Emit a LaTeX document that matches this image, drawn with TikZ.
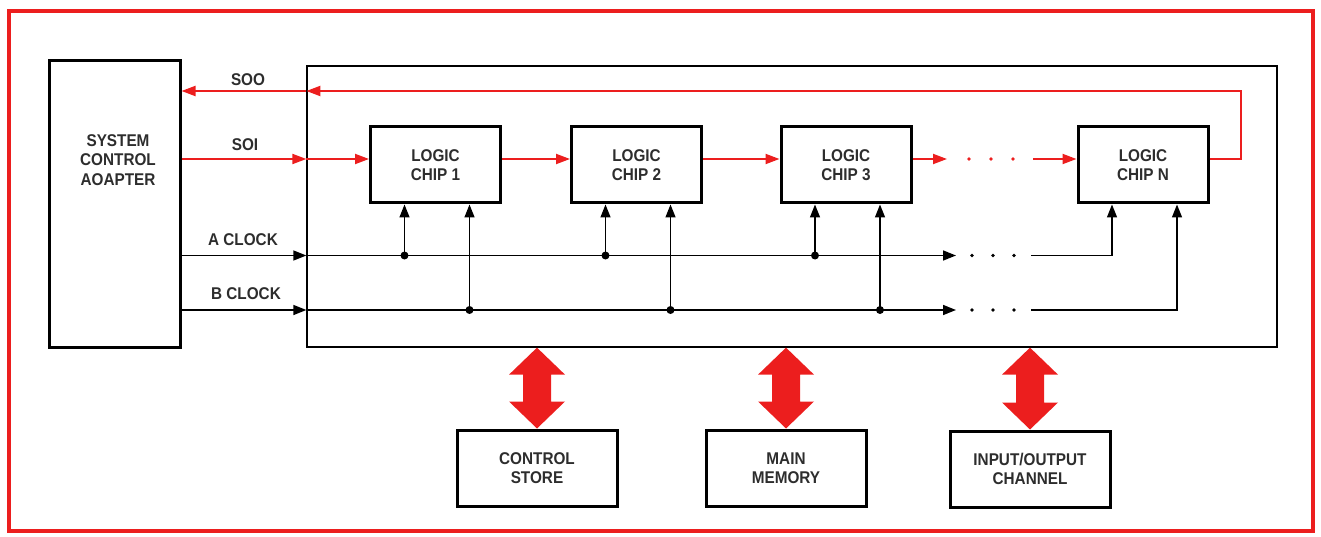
\documentclass[tikz,border=0pt]{standalone}
\usepackage{fontspec}
\setmainfont{Liberation Sans}[FakeStretch=0.9]
\usetikzlibrary{arrows.meta,calc}
\definecolor{dred}{RGB}{236,30,30}
\definecolor{ink}{RGB}{45,45,45}
\newcommand\dfont{\fontsize{17}{19.5}\selectfont\bfseries}
\newcommand\dblarr[1]{%
  \coordinate (#1t) at (#1.north|-bus.south);
  \fill[dred] (#1t) -- ++(28,27) -- ++(-14,0) -- ($(#1.north)+(14,-27)$) -- ++(14,0)
    -- (#1.north) -- ++(-28,-27) -- ++(14,0) -- ($(#1t)+(-14,27)$) -- ++(-14,0) -- cycle;}
\begin{document}
\begin{tikzpicture}[x=1pt,y=-1pt,
  thickbox/.style={draw=black, line width=3pt, align=center, inner sep=0pt, text=ink, font=\dfont},
  chipbox/.style={thickbox, minimum width=130pt, minimum height=76pt},
  memb/.style={thickbox, minimum width=160pt, minimum height=76pt},
  sig/.style={draw=dred, line width=2pt},
  clk/.style={draw=black, line width=1.5pt},
  rtip/.style={-{Triangle[length=14pt,width=10pt]}},
  btip/.style={-{Triangle[length=13pt,width=10pt]}},
  lbl/.style={text=ink, font=\dfont, inner sep=0pt, align=center},
]
\useasboundingbox (0,0) rectangle (1321,537);
\draw[dred, line width=4.5pt] (9,11) rectangle (1313,531);

% boxes
\node[thickbox, minimum width=131pt, minimum height=286pt] (sca) at (114.5,204) {};
\node[lbl] (scat) at (118,160) {SYSTEM\\CONTROL\\AOAPTER};
\node[draw=black, line width=1.3pt, minimum width=970pt, minimum height=281pt, inner sep=0pt] (bus) at (792,206.5) {};

\node[chipbox] (c1) at (435.5,165) {LOGIC\\CHIP 1};
\node[chipbox] (c2) at (636.5,165) {LOGIC\\CHIP 2};
\node[chipbox] (c3) at (846,165) {LOGIC\\CHIP 3};
\node[chipbox] (cN) at (1143,165) {LOGIC\\CHIP N};

\node[memb] (cs) at (537,468) {CONTROL\\STORE};
\node[memb] (mm) at (786,468) {MAIN\\MEMORY};
\node[memb] (io) at (1030,469) {INPUT/OUTPUT\\CHANNEL};

% reference rows
\coordinate (soiy) at (0,159);
\coordinate (sooy) at (0,91);
\coordinate (ay) at (0,255.5);
\coordinate (by) at (0,310);
\coordinate (ret) at (1241,91);

% labels
\node[lbl] (soo) at (248,80) {SOO};
\node[lbl] (soi) at (245,145) {SOI};
\node[lbl] (acl) at (243,240) {A CLOCK};
\node[lbl] (bcl) at (246,294) {B CLOCK};

% scan-in chain
\draw[sig,rtip] (sca.east|-soiy) -- (bus.west|-soiy);
\draw[sig,rtip] (bus.west|-soiy) -- (c1.west|-soiy);
\draw[sig,rtip] (c1.east|-soiy) -- (c2.west|-soiy);
\draw[sig,rtip] (c2.east|-soiy) -- (c3.west|-soiy);
\coordinate (d1) at (947,159);
\coordinate (d2) at (1033,159);
\draw[sig,rtip] (c3.east|-soiy) -- (d1);
\foreach \x in {969,991,1013} \fill[dred] (\x,159) circle (1.8pt);
\draw[sig,rtip] (d2) -- (cN.west|-soiy);
% scan-out return
\draw[sig,rtip,line join=miter] (cN.east|-soiy) -| (ret) -- (bus.west|-sooy);
\draw[sig,rtip] (bus.west|-sooy) -- (sca.east|-sooy);

% clocks
\coordinate (ae) at (956,255.5);
\coordinate (as) at (1031,255.5);
\coordinate (be) at (956,310);
\coordinate (bs) at (1031,310);
\draw[clk,btip] (sca.east|-ay) -- (bus.west|-ay);
\draw[clk,btip] (bus.west|-ay) -- (ae);
\draw[clk,btip] (sca.east|-by) -- (bus.west|-by);
\draw[clk,btip] (bus.west|-by) -- (be);
\foreach \x in {972,993,1014} {\fill (\x,255.5) circle (1.9pt); \fill (\x,310) circle (1.9pt);}
\path ([xshift=-31pt]cN.south) coordinate (cNa) ([xshift=34pt]cN.south) coordinate (cNb);
\draw[clk,btip,line join=miter] (as) -| (cNa);
\draw[clk,btip,line join=miter] (bs) -| (cNb);
\foreach \c in {c1,c2,c3} {
  \path ([xshift=-31pt]\c.south) coordinate (\c a) ([xshift=34pt]\c.south) coordinate (\c b);
  \draw[clk,btip] (\c a|-ay) -- (\c a);
  \draw[clk,btip] (\c b|-by) -- (\c b);
  \fill (\c a|-ay) circle (4pt);
  \fill (\c b|-by) circle (4pt);
}

% bidirectional buses
\dblarr{cs}
\dblarr{mm}
\dblarr{io}
\end{tikzpicture}
\end{document}
